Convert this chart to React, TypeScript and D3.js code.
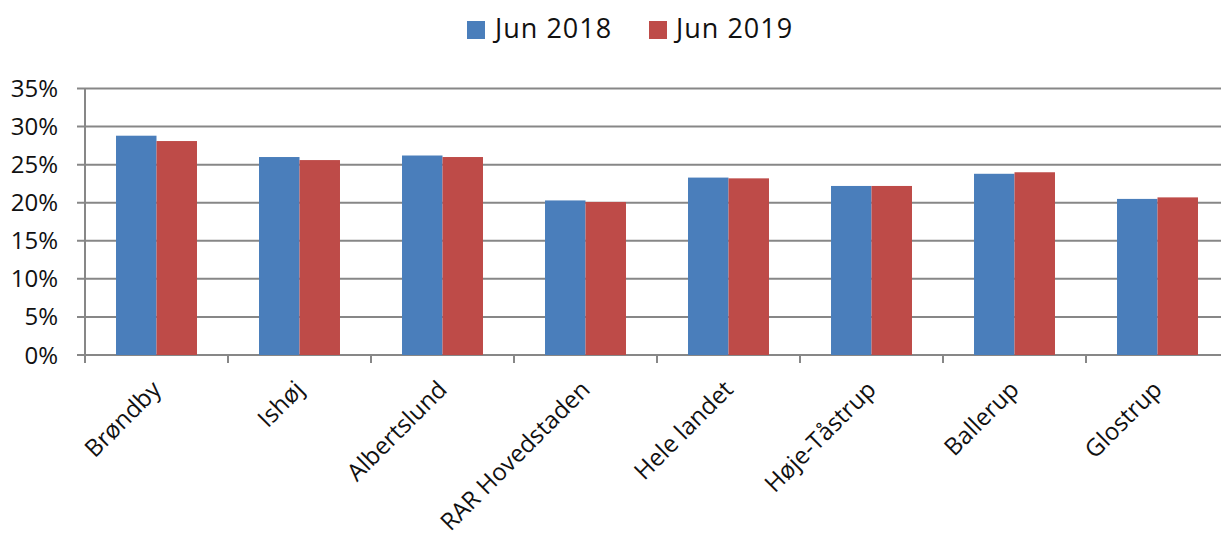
import * as React from "react"
import * as d3 from "d3"

const categories = [
  "Brøndby",
  "Ishøj",
  "Albertslund",
  "RAR Hovedstaden",
  "Hele landet",
  "Høje-Tåstrup",
  "Ballerup",
  "Glostrup",
]
const seriesNames = ["Jun 2018", "Jun 2019"]
const jun2018 = [28.8, 26.0, 26.2, 20.3, 23.3, 22.2, 23.8, 20.5]
const jun2019 = [28.1, 25.6, 26.0, 20.1, 23.2, 22.2, 24.0, 20.7]
const yTicks = [0, 5, 10, 15, 20, 25, 30, 35]
const colors = ["#4a7ebb", "#be4b48"]

const W = 1221
const H = 536
const FONT = "'Open Sans', 'Liberation Sans', sans-serif"

export default function App() {
  const margin = { left: 85, right: 1229, top: 88.5, bottom: 355 }

  const x0 = d3.scaleBand().domain(categories).range([margin.left, margin.right])
  const x1 = d3
    .scaleBand()
    .domain(seriesNames)
    .range([0, x0.bandwidth()])
    .paddingInner(0)
    .paddingOuter(0.766)
  const y = d3.scaleLinear().domain([0, 35]).range([margin.bottom, margin.top])

  const values = [jun2018, jun2019]
  const grid = "#878787"

  return (
    <svg
      width={W}
      height={H}
      style={{ position: "absolute", left: 0, top: 0, background: "#fff" }}
      fontFamily={FONT}
    >
      {/* gridlines */}
      {yTicks.map((t) => (
        <line
          key={"g" + t}
          x1={margin.left - 8}
          x2={margin.right}
          y1={y(t)}
          y2={y(t)}
          stroke={grid}
          strokeWidth={2}
        />
      ))}
      {/* y labels */}
      {yTicks.map((t) => (
        <text
          key={"yl" + t}
          x={58}
          y={y(t) + 8.5}
          textAnchor="end"
          fontSize={24}
          fill="#111"
        >
          {t + "%"}
        </text>
      ))}
      {/* bars */}
      {categories.map((c, i) => (
        <g key={c} transform={`translate(${x0(c)},0)`}>
          {seriesNames.map((s, j) => (
            <rect
              key={s}
              x={x1(s)}
              y={y(values[j][i])}
              width={x1.bandwidth()}
              height={y(0) - y(values[j][i])}
              fill={colors[j]}
            />
          ))}
        </g>
      ))}
      {/* axes */}
      <line x1={margin.left} x2={margin.left} y1={margin.top} y2={margin.bottom + 8} stroke={grid} strokeWidth={2} />
      {categories.map((c) => (
        <line
          key={"t" + c}
          x1={(x0(c) as number) + x0.bandwidth()}
          x2={(x0(c) as number) + x0.bandwidth()}
          y1={margin.bottom}
          y2={margin.bottom + 8}
          stroke={grid}
          strokeWidth={2}
        />
      ))}
      {/* category labels */}
      {categories.map((c) => {
        const cx = (x0(c) as number) + x0.bandwidth() / 2
        return (
          <text
            key={"cl" + c}
            transform={`translate(${cx + 6},${391}) rotate(-45)`}
            textAnchor="end"
            fontSize={24}
            fill="#111"
          >
            {c}
          </text>
        )
      })}
      {/* legend */}
      <rect x={467} y={21} width={18} height={18} fill={colors[0]} />
      <text x={495} y={38} fontSize={27} letterSpacing={1} fill="#111">
        {seriesNames[0]}
      </text>
      <rect x={649} y={21} width={18} height={18} fill={colors[1]} />
      <text x={676} y={38} fontSize={27} letterSpacing={1} fill="#111">
        {seriesNames[1]}
      </text>
    </svg>
  )
}
